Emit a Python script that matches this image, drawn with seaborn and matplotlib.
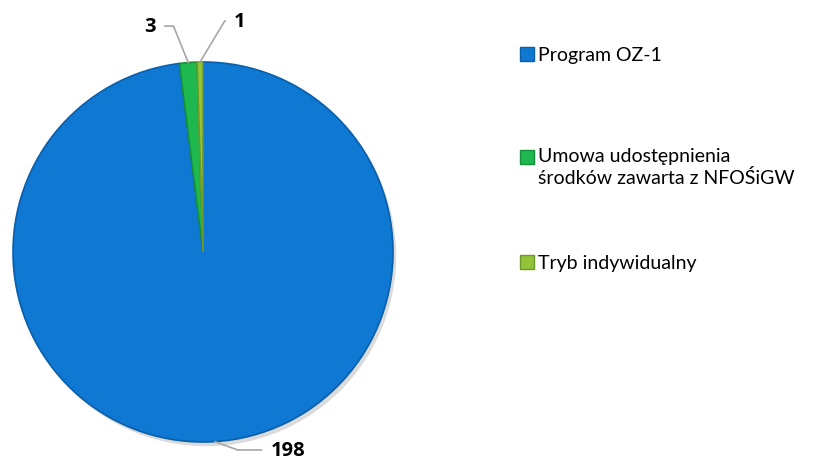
# -*- coding: UTF-8 -*-
import matplotlib.pyplot as plt
from matplotlib.patches import Rectangle
import numpy as np
import seaborn as sns

# dane
categories = ["Program OZ-1",
              "Umowa udostępnienia\nśrodków zawarta z NFOŚiGW",
              "Tryb indywidualny"]
values = [198, 3, 1]
colors = ["#0E78D2", "#1FB84E", "#92C43A"]
edge_colors = ["#0A5FAA", "#14903A", "#6E9A28"]

sns.set_theme(style="white")
plt.rcParams['font.family'] = ['Lato', 'DejaVu Sans']

fig = plt.figure(figsize=(8.22, 4.64), dpi=100)
ax = fig.add_axes([13/822, 21/464, 380/822, 380/464])

wedges, _ = ax.pie(values, colors=colors, startangle=90, counterclock=False,
                   radius=1.0,
                   shadow={'ox': 0.012, 'oy': -0.016, 'facecolor': '#9a9a9a',
                           'edgecolor': 'none', 'alpha': 0.35},
                   wedgeprops=dict(linewidth=1.2))
for w, ec in zip(wedges, edge_colors):
    w.set_edgecolor(ec)
ax.set_xlim(-1, 1)
ax.set_ylim(-1, 1)
ax.set_aspect('equal')
ax.axis('off')

# etykiety z liniami odniesienia
label_pos = [(0.447, -1.042), (-0.279, 1.189), (0.195, 1.216)]
angle_b = [-20, 112, 59]
for w, v, pos, ab in zip(wedges, values, label_pos, angle_b):
    ang = np.deg2rad((w.theta1 + w.theta2) / 2)
    pt = (np.cos(ang), np.sin(ang))
    ax.annotate(str(v), xy=pt, xytext=pos, ha='center', va='center',
                fontsize=14.5, fontweight='bold', color='black',
                family=['Open Sans', 'DejaVu Sans'],
                annotation_clip=False,
                arrowprops=dict(arrowstyle='-', color='#A6A6A6', lw=1.2,
                                shrinkA=4, shrinkB=0,
                                connectionstyle=f"angle,angleA=0,angleB={ab},rad=0"))

# legenda
rows = [55, 158, 263]
for name, c, ec, y in zip(categories, colors, edge_colors, rows):
    fig.patches.append(Rectangle((520/822, 1 - (y + 7)/464), 14/822, 14/464,
                                 transform=fig.transFigure, facecolor=c,
                                 edgecolor=ec, linewidth=1))
    fig.text(538/822, 1 - (y - 10)/464 if '\n' in name else 1 - y/464, name,
             ha='left', va='top' if '\n' in name else 'center',
             fontsize=14, color='black', linespacing=1.25)

plt.savefig('out.png', dpi=100)
